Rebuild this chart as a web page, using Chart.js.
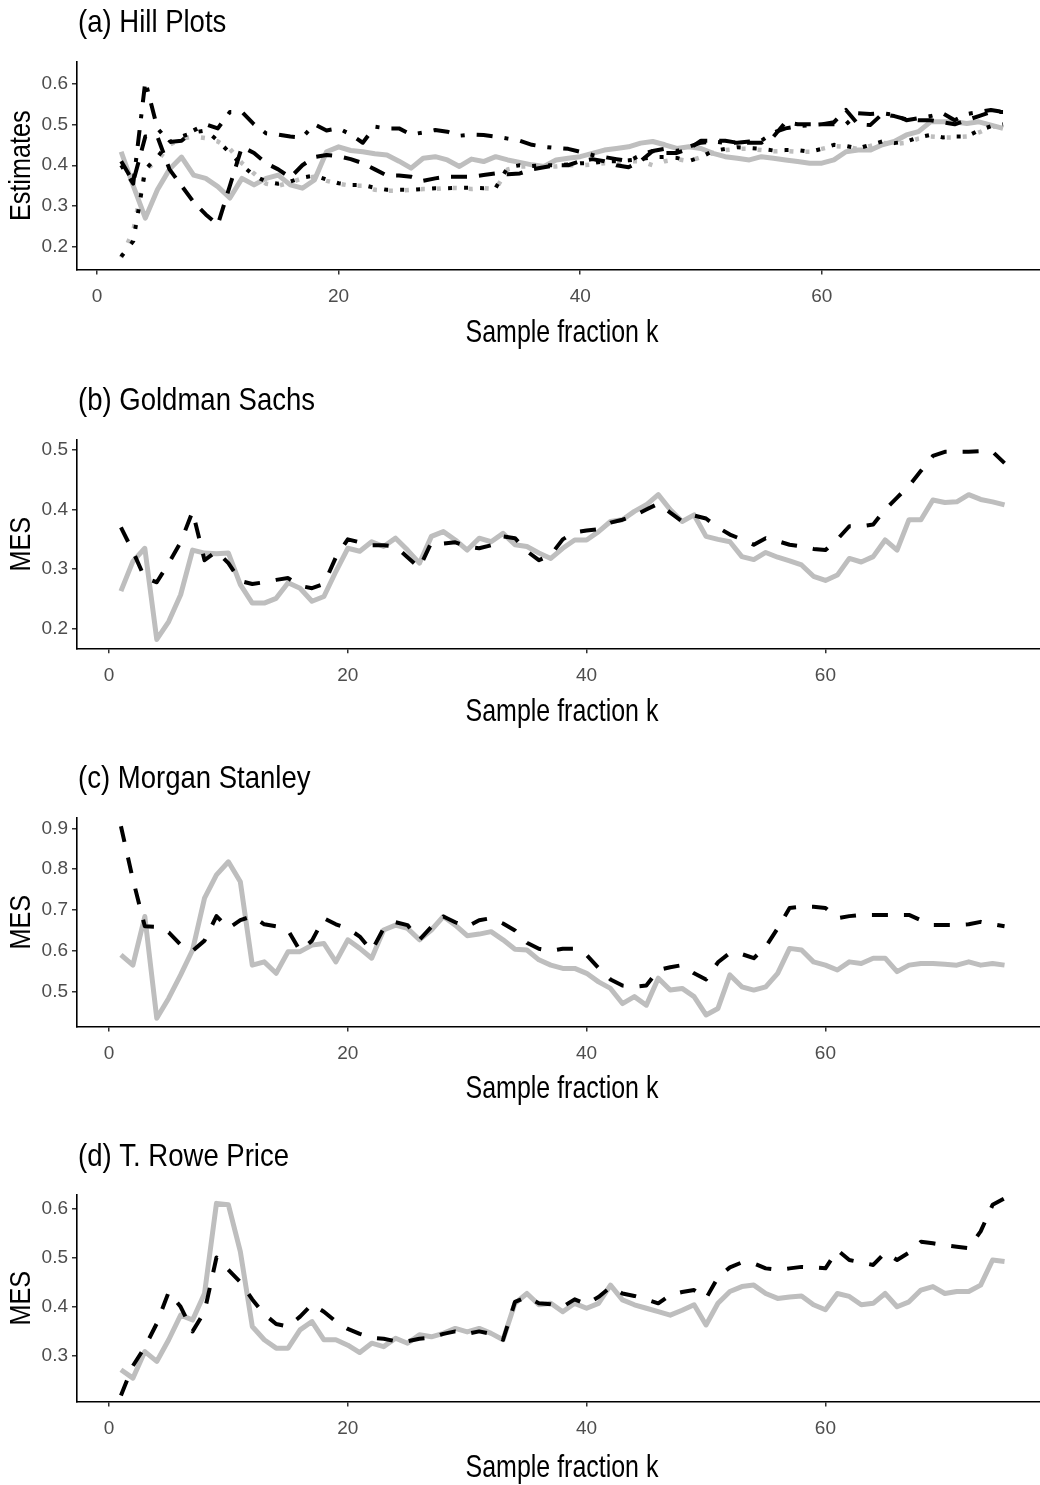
<!DOCTYPE html>
<html>
<head>
<meta charset="utf-8">
<script src="https://cdn.jsdelivr.net/npm/chart.js@4.4.1/dist/chart.umd.min.js"></script>
<style>
  body { margin: 0; background: #fff; width: 1040px; height: 1485px; position: relative; overflow: hidden; }
  canvas { position: absolute; left: 0; }
</style>
</head>
<body>
<canvas id="hill" width="1040" height="370" style="top:0px"></canvas>
<canvas id="gs" width="1040" height="378" style="top:370px"></canvas>
<canvas id="ms" width="1040" height="378" style="top:748px"></canvas>
<canvas id="tr" width="1040" height="359" style="top:1126px"></canvas>
<script>
const FONT = "'Liberation Sans', Arial, sans-serif";

const xTicks = [0, 20, 40, 60];
const hillYTicks = [0.2, 0.3, 0.4, 0.5, 0.6];
const gsYTicks = [0.2, 0.3, 0.4, 0.5];
const msYTicks = [0.5, 0.6, 0.7, 0.8, 0.9];
const trYTicks = [0.3, 0.4, 0.5, 0.6];

// sample fraction k
const kHill = [2, 3, 4, 5, 6, 7, 8, 9, 10, 11, 12, 13, 14, 15, 16, 17, 18, 19, 20, 21,
  22, 23, 24, 25, 26, 27, 28, 29, 30, 31, 32, 33, 34, 35, 36, 37, 38, 39, 40, 41,
  42, 43, 44, 45, 46, 47, 48, 49, 50, 51, 52, 53, 54, 55, 56, 57, 58, 59, 60, 61,
  62, 63, 64, 65, 66, 67, 68, 69, 70, 71, 72, 73, 74, 75];
const kMes = [1, 2, 3, 4, 5, 6, 7, 8, 9, 10, 11, 12, 13, 14, 15, 16, 17, 18, 19, 20, 21,
  22, 23, 24, 25, 26, 27, 28, 29, 30, 31, 32, 33, 34, 35, 36, 37, 38, 39, 40, 41,
  42, 43, 44, 45, 46, 47, 48, 49, 50, 51, 52, 53, 54, 55, 56, 57, 58, 59, 60, 61,
  62, 63, 64, 65, 66, 67, 68, 69, 70, 71, 72, 73, 74, 75];

// (a) Hill estimates
const hillGray = [0.433, 0.35, 0.271, 0.34, 0.39, 0.42, 0.376, 0.368, 0.348, 0.32,
  0.368, 0.352, 0.368, 0.376, 0.352, 0.344, 0.364, 0.433, 0.445, 0.436,
  0.433, 0.428, 0.425, 0.41, 0.393, 0.417, 0.421, 0.413, 0.397, 0.415,
  0.409, 0.421, 0.413, 0.407, 0.401, 0.397, 0.413, 0.417, 0.421, 0.429,
  0.437, 0.441, 0.445, 0.454, 0.458, 0.45, 0.441, 0.445, 0.441, 0.429,
  0.421, 0.417, 0.413, 0.421, 0.417, 0.413, 0.409, 0.405, 0.405, 0.413,
  0.433, 0.437, 0.437, 0.45, 0.458, 0.474, 0.482, 0.506, 0.506, 0.506,
  0.502, 0.506, 0.498, 0.49];
const hillDash = [0.41, 0.36, 0.47, 0.47, 0.39, 0.35, 0.31, 0.28, 0.255, 0.35,
  0.445, 0.43, 0.405, 0.39, 0.37, 0.40, 0.42, 0.425, 0.422, 0.415,
  0.405, 0.39, 0.375, 0.375, 0.372, 0.362, 0.368, 0.372, 0.372, 0.372,
  0.376, 0.38, 0.378, 0.38, 0.39, 0.395, 0.40, 0.40, 0.41, 0.415,
  0.41, 0.40, 0.395, 0.41, 0.435, 0.43, 0.43, 0.44, 0.46, 0.46,
  0.46, 0.455, 0.455, 0.455, 0.47, 0.505, 0.50, 0.50, 0.50, 0.505,
  0.535, 0.50, 0.498, 0.525, 0.52, 0.512, 0.51, 0.51, 0.505, 0.50,
  0.51, 0.52, 0.53, 0.53];
const hillDotDash = [0.40, 0.355, 0.605, 0.49, 0.457, 0.46, 0.485, 0.50, 0.49, 0.53,
  0.53, 0.50, 0.478, 0.475, 0.47, 0.468, 0.50, 0.485, 0.49, 0.475,
  0.455, 0.494, 0.49, 0.49, 0.475, 0.48, 0.486, 0.482, 0.472, 0.475,
  0.474, 0.47, 0.465, 0.46, 0.45, 0.445, 0.442, 0.44, 0.433, 0.425,
  0.42, 0.415, 0.41, 0.425, 0.435, 0.44, 0.435, 0.445, 0.455, 0.458,
  0.455, 0.455, 0.458, 0.46, 0.48, 0.49, 0.495, 0.498, 0.50, 0.50,
  0.50, 0.527, 0.525, 0.527, 0.523, 0.51, 0.515, 0.52, 0.527, 0.51,
  0.525, 0.53, 0.535, 0.53];
const hillDot = [0.177, 0.215, 0.39, 0.42, 0.457, 0.47, 0.48, 0.485, 0.46, 0.43,
  0.40, 0.375, 0.36, 0.355, 0.36, 0.37, 0.375, 0.365, 0.356, 0.352,
  0.352, 0.345, 0.34, 0.34, 0.34, 0.342, 0.344, 0.344, 0.345, 0.345,
  0.344, 0.345, 0.395, 0.40, 0.398, 0.40, 0.40, 0.402, 0.405, 0.405,
  0.41, 0.41, 0.412, 0.415, 0.42, 0.42, 0.418, 0.41, 0.42, 0.435,
  0.44, 0.444, 0.442, 0.44, 0.436, 0.437, 0.437, 0.433, 0.44, 0.45,
  0.447, 0.441, 0.45, 0.458, 0.454, 0.458, 0.468, 0.474, 0.468, 0.47,
  0.47, 0.485, 0.495, 0.50];
const hillDotGray = [0.175, 0.24, 0.39, 0.41, 0.45, 0.465, 0.47, 0.466, 0.458, 0.44,
  0.405, 0.38, 0.355, 0.35, 0.358, 0.368, 0.372, 0.362, 0.355, 0.35,
  0.35, 0.34, 0.338, 0.338, 0.34, 0.342, 0.342, 0.345, 0.344, 0.342,
  0.344, 0.342, 0.39, 0.397, 0.397, 0.397, 0.397, 0.40, 0.40, 0.402,
  0.405, 0.405, 0.41, 0.41, 0.40, 0.41, 0.415, 0.41, 0.42, 0.43,
  0.437, 0.44, 0.44, 0.437, 0.434, 0.435, 0.433, 0.433, 0.44, 0.447,
  0.445, 0.44, 0.447, 0.455, 0.452, 0.455, 0.465, 0.47, 0.468, 0.468,
  0.47, 0.48, 0.493, 0.497];

// (b) Goldman Sachs MES
const gsGray = [0.263, 0.313, 0.335, 0.182, 0.212, 0.257, 0.332, 0.327, 0.326, 0.327,
  0.274, 0.243, 0.243, 0.251, 0.277, 0.268, 0.246, 0.254, 0.296, 0.335,
  0.33, 0.346, 0.338, 0.352, 0.332, 0.31, 0.355, 0.363, 0.349, 0.332,
  0.352, 0.346, 0.36, 0.341, 0.338, 0.327, 0.318, 0.335, 0.349, 0.349,
  0.363, 0.38, 0.383, 0.397, 0.408, 0.425, 0.40, 0.38, 0.391, 0.355,
  0.35, 0.346, 0.321, 0.316, 0.328, 0.32, 0.314, 0.307, 0.288, 0.281,
  0.29, 0.318, 0.312, 0.321, 0.349, 0.332, 0.383, 0.383, 0.416, 0.412,
  0.413, 0.425, 0.417, 0.413, 0.408];
const gsDash = [0.37, 0.33, 0.285, 0.278, 0.31, 0.345, 0.397, 0.315, 0.33, 0.31,
  0.28, 0.275, 0.278, 0.282, 0.285, 0.272, 0.268, 0.275, 0.32, 0.35,
  0.345, 0.34, 0.34, 0.338, 0.32, 0.302, 0.345, 0.343, 0.345, 0.338,
  0.335, 0.34, 0.355, 0.352, 0.33, 0.315, 0.324, 0.35, 0.362, 0.365,
  0.367, 0.378, 0.383, 0.39, 0.40, 0.41, 0.395, 0.38, 0.39, 0.385,
  0.37, 0.358, 0.35, 0.341, 0.352, 0.347, 0.341, 0.338, 0.334, 0.332,
  0.35, 0.372, 0.372, 0.375, 0.40, 0.42, 0.44, 0.465, 0.49, 0.497,
  0.497, 0.497, 0.498, 0.497, 0.478];

// (c) Morgan Stanley MES
const msGray = [0.59, 0.565, 0.684, 0.435, 0.484, 0.541, 0.602, 0.729, 0.786, 0.818,
  0.769, 0.565, 0.573, 0.545, 0.598, 0.598, 0.614, 0.618, 0.573, 0.627,
  0.606, 0.582, 0.651, 0.663, 0.655, 0.627, 0.651, 0.684, 0.663, 0.637,
  0.641, 0.647, 0.627, 0.604, 0.602, 0.578, 0.565, 0.557, 0.557, 0.545,
  0.524, 0.508, 0.471, 0.488, 0.467, 0.533, 0.504, 0.508, 0.488, 0.443,
  0.459, 0.541, 0.512, 0.504, 0.512, 0.545, 0.606, 0.602, 0.573, 0.565,
  0.553, 0.573, 0.569, 0.582, 0.582, 0.549, 0.565, 0.569, 0.569, 0.567,
  0.565, 0.573, 0.565, 0.569, 0.565];
const msDash = [0.905, 0.775, 0.66, 0.659, 0.645, 0.615, 0.60, 0.625, 0.685, 0.655,
  0.675, 0.685, 0.665, 0.66, 0.65, 0.60, 0.625, 0.68, 0.665, 0.655,
  0.635, 0.60, 0.655, 0.67, 0.663, 0.627, 0.659, 0.684, 0.67, 0.659,
  0.675, 0.68, 0.667, 0.65, 0.62, 0.605, 0.60, 0.605, 0.605, 0.59,
  0.558, 0.53, 0.515, 0.512, 0.515, 0.553, 0.56, 0.565, 0.545, 0.53,
  0.572, 0.595, 0.592, 0.582, 0.61, 0.655, 0.705, 0.708, 0.708, 0.705,
  0.68, 0.685, 0.688, 0.688, 0.688, 0.688, 0.688, 0.675, 0.663, 0.663,
  0.663, 0.665, 0.671, 0.665, 0.66];

// (d) T. Rowe Price MES
const trGray = [0.272, 0.255, 0.309, 0.289, 0.333, 0.383, 0.373, 0.427, 0.61, 0.607,
  0.512, 0.36, 0.333, 0.316, 0.316, 0.353, 0.37, 0.333, 0.333, 0.322,
  0.307, 0.326, 0.319, 0.336, 0.326, 0.343, 0.339, 0.346, 0.356, 0.349,
  0.356, 0.346, 0.333, 0.407, 0.427, 0.404, 0.407, 0.39, 0.407, 0.397,
  0.407, 0.444, 0.414, 0.404, 0.397, 0.39, 0.383, 0.393, 0.404, 0.363,
  0.407, 0.431, 0.441, 0.444, 0.427, 0.417, 0.42, 0.422, 0.404, 0.394,
  0.427, 0.421, 0.404, 0.407, 0.427, 0.40, 0.41, 0.434, 0.441, 0.427,
  0.431, 0.431, 0.444, 0.495, 0.492];
const trDash = [0.22, 0.28, 0.318, 0.366, 0.43, 0.40, 0.35, 0.39, 0.50, 0.475,
  0.45, 0.415, 0.385, 0.365, 0.36, 0.38, 0.405, 0.39, 0.37, 0.355,
  0.345, 0.337, 0.335, 0.33, 0.33, 0.335, 0.337, 0.345, 0.35, 0.345,
  0.35, 0.345, 0.333, 0.41, 0.42, 0.407, 0.405, 0.40, 0.415, 0.405,
  0.42, 0.44, 0.427, 0.422, 0.415, 0.407, 0.424, 0.43, 0.434, 0.417,
  0.46, 0.48, 0.49, 0.488, 0.478, 0.475, 0.478, 0.481, 0.48, 0.478,
  0.515, 0.495, 0.49, 0.485, 0.51, 0.495, 0.51, 0.532, 0.529, 0.525,
  0.522, 0.519, 0.553, 0.607, 0.62];

const GRAY = '#bebebe';

function points(ks, vals) {
    return ks.map((k, i) => ({ x: k, y: vals[i] }));
}

function line(ks, vals, color, width, dash) {
    return {
        data: points(ks, vals),
        borderColor: color,
        borderWidth: width,
        borderDash: dash,
        borderCapStyle: 'butt',
        borderJoinStyle: 'round',
        pointRadius: 0,
        fill: false,
        tension: 0
    };
}

// narrow (condensed) text for titles, like the original figure
function narrowText(ctx, text, x, y, size, squeeze, align, rotate) {
    ctx.save();
    ctx.translate(x, y);
    if (rotate) ctx.rotate(-Math.PI / 2);
    ctx.scale(squeeze, 1);
    ctx.font = `${size}px ${FONT}`;
    ctx.textAlign = align;
    ctx.textBaseline = 'middle';
    ctx.fillStyle = '#000';
    ctx.fillText(text, 0, 0);
    ctx.restore();
}

const panelText = {
    id: 'panelText',
    afterDraw(chart, args, o) {
        const { ctx, chartArea } = chart;
        narrowText(ctx, o.title, 78, o.titleY, 32, 0.86, 'left', false);
        narrowText(ctx, 'Sample fraction k', 562, o.xTitleY, 32, 0.78, 'center', false);
        narrowText(ctx, o.yTitle, 22, (chartArea.top + chartArea.bottom) / 2, 30, 0.84, 'center', true);
    }
};

function makePanel(id, cfg) {
    const canvas = document.getElementById(id);
    new Chart(canvas, {
        type: 'line',
        data: { datasets: cfg.datasets },
        plugins: [panelText],
        options: {
            responsive: false,
            animation: false,
            devicePixelRatio: 1,
            layout: { padding: { top: cfg.top, left: 0, right: 0, bottom: 0 } },
            plugins: {
                legend: { display: false },
                tooltip: { enabled: false },
                panelText: { title: cfg.title, titleY: cfg.titleY, xTitleY: cfg.xTitleY, yTitle: cfg.yTitle }
            },
            scales: {
                x: {
                    type: 'linear',
                    min: cfg.xMin,
                    max: cfg.xMax,
                    afterFit: s => { s.height = cfg.xHeight; },
                    afterBuildTicks: s => { s.ticks = xTicks.map(v => ({ value: v })); },
                    grid: { drawOnChartArea: false, tickLength: 5, lineWidth: 1.5, color: '#333' },
                    border: { color: '#000', width: 1.6 },
                    ticks: {
                        padding: 11,
                        color: '#4d4d4d',
                        maxRotation: 0,
                        autoSkip: false,
                        font: { family: FONT, size: 19 },
                        callback: v => String(v)
                    }
                },
                y: {
                    min: cfg.yMin,
                    max: cfg.yMax,
                    afterFit: s => { s.width = 77; },
                    afterBuildTicks: s => { s.ticks = cfg.yTicks.map(v => ({ value: v })); },
                    grid: { drawOnChartArea: false, tickLength: 5, lineWidth: 1.5, color: '#333' },
                    border: { color: '#000', width: 1.6 },
                    ticks: {
                        padding: 4,
                        color: '#4d4d4d',
                        font: { family: FONT, size: 19 },
                        callback: v => v.toFixed(1)
                    }
                }
            }
        }
    });
}

document.addEventListener("DOMContentLoaded", () => {
    makePanel('hill', {
        title: '(a) Hill Plots', yTitle: 'Estimates',
        top: 62, titleY: 23, xTitleY: 333,
        xMin: -1.656, xMax: 78.06, yMin: 0.1456, yMax: 0.652,
        xHeight: 100.5, yTicks: hillYTicks,
        datasets: [
            line(kHill, hillDash, '#000', 4, [16, 12]),
            line(kHill, hillDotDash, '#000', 4, [4, 12, 16, 12]),
            line(kHill, hillDot, '#000', 4, [4, 12]),
            line(kHill, hillDotGray, GRAY, 4.5, [4, 12]),
            line(kHill, hillGray, GRAY, 5, [])
        ]
    });
    makePanel('gs', {
        title: '(b) Goldman Sachs', yTitle: 'MES',
        top: 70, titleY: 31, xTitleY: 342,
        xMin: -2.68, xMax: 77.97, yMin: 0.1671, yMax: 0.5168,
        xHeight: 99.7, yTicks: gsYTicks,
        datasets: [
            line(kMes, gsDash, '#000', 4, [16, 16]),
            line(kMes, gsGray, GRAY, 5, [])
        ]
    });
    makePanel('ms', {
        title: '(c) Morgan Stanley', yTitle: 'MES',
        top: 70, titleY: 31, xTitleY: 341,
        xMin: -2.68, xMax: 77.97, yMin: 0.4148, yMax: 0.9252,
        xHeight: 99.5, yTicks: msYTicks,
        datasets: [
            line(kMes, msDash, '#000', 4, [16, 16]),
            line(kMes, msGray, GRAY, 5, [])
        ]
    });
    makePanel('tr', {
        title: '(d) T. Rowe Price', yTitle: 'MES',
        top: 69, titleY: 31, xTitleY: 342,
        xMin: -2.68, xMax: 77.97, yMin: 0.2076, yMax: 0.627,
        xHeight: 83.5, yTicks: trYTicks,
        datasets: [
            line(kMes, trDash, '#000', 4, [16, 16]),
            line(kMes, trGray, GRAY, 5, [])
        ]
    });
});
</script>
</body>
</html>
